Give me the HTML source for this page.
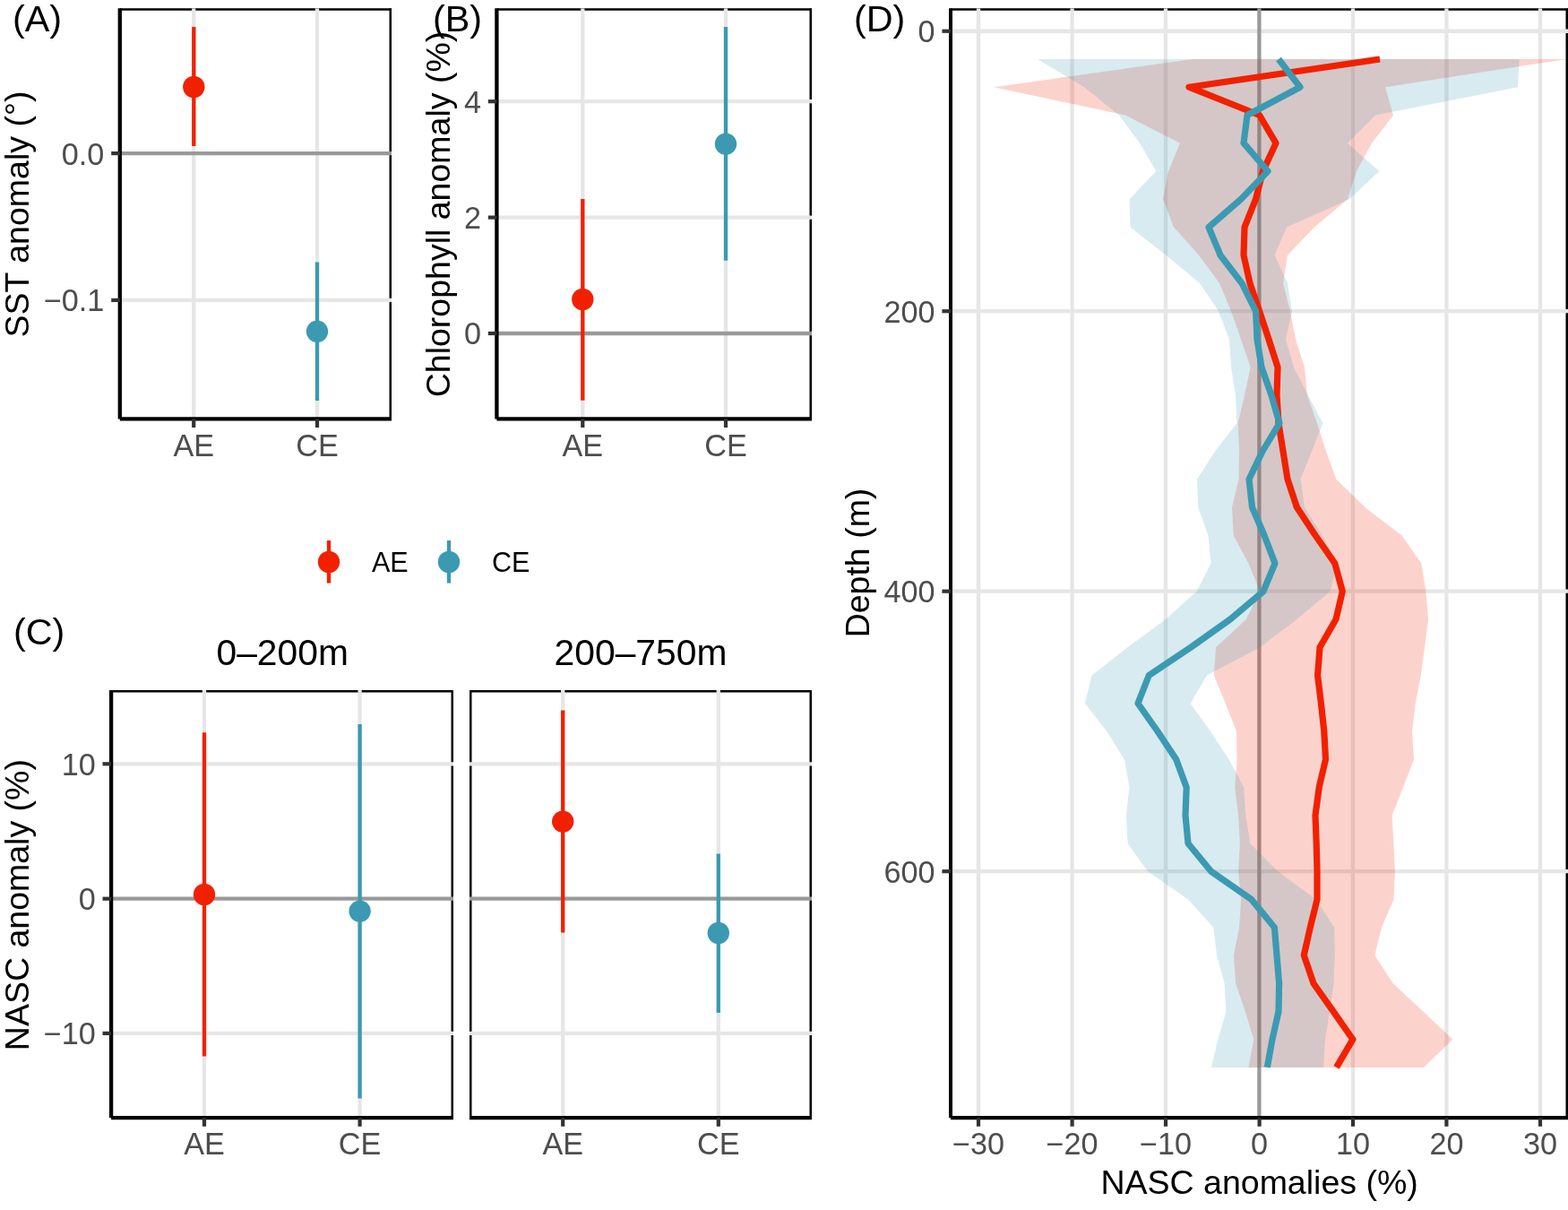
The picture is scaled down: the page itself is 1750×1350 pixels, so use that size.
<!DOCTYPE html>
<html lang="en">
<head>
<meta charset="utf-8">
<title>Eddy anomalies figure</title>
<style>
html,body{margin:0;padding:0;background:#fff;}
body{width:1750px;height:1350px;overflow:hidden;}
svg{display:block;font-family:"Liberation Sans",sans-serif;}
</style>
</head>
<body>
<svg width="1750" height="1350" viewBox="0 0 1750 1350">
<rect width="1750" height="1350" fill="#fff"/>
<clipPath id="c1"><rect x="133.8" y="9.2" width="303.20" height="458.20"/></clipPath>
<g clip-path="url(#c1)">
<rect x="133.8" y="9.2" width="303.20" height="458.20" fill="#fff"/>
<line x1="133.8" x2="437.0" y1="9.2" y2="9.2" stroke="#000" stroke-width="5.0"/>
<line x1="437.0" x2="437.0" y1="9.2" y2="467.4" stroke="#000" stroke-width="5.0"/>
<line x1="133.8" x2="437.0" y1="334.9" y2="334.9" stroke="#E6E6E6" stroke-width="4.3"/>
<line x1="216.2" x2="216.2" y1="9.2" y2="467.4" stroke="#E6E6E6" stroke-width="4.3"/>
<line x1="354.0" x2="354.0" y1="9.2" y2="467.4" stroke="#E6E6E6" stroke-width="4.3"/>
<line x1="133.8" x2="437.0" y1="171.1" y2="171.1" stroke="#999999" stroke-width="4.3"/>
<line x1="216.3" x2="216.3" y1="30.0" y2="163.0" stroke="#F12100" stroke-width="4.3"/>
<circle cx="216.3" cy="97.0" r="12.2" fill="#F12100"/>
<line x1="354.0" x2="354.0" y1="292.4" y2="447.0" stroke="#3B9AB2" stroke-width="4.3"/>
<circle cx="354.0" cy="369.8" r="12.2" fill="#3B9AB2"/>
</g>
<line x1="133.8" x2="133.8" y1="9.2" y2="467.4" stroke="#000" stroke-width="4.3"/>
<line x1="133.8" x2="437.0" y1="467.4" y2="467.4" stroke="#000" stroke-width="4.3"/>
<line x1="216.2" x2="216.2" y1="467.4" y2="477.00" stroke="#333333" stroke-width="4.2"/>
<text x="216.2" y="508.5" font-size="34.2" fill="#4D4D4D" text-anchor="middle">AE</text>
<line x1="354.0" x2="354.0" y1="467.4" y2="477.00" stroke="#333333" stroke-width="4.2"/>
<text x="354.0" y="508.5" font-size="34.2" fill="#4D4D4D" text-anchor="middle">CE</text>
<line x1="124.20" x2="133.8" y1="171.1" y2="171.1" stroke="#333333" stroke-width="4.2"/>
<text x="116.40" y="183.50" font-size="34.2" fill="#4D4D4D" text-anchor="end">0.0</text>
<line x1="124.20" x2="133.8" y1="334.9" y2="334.9" stroke="#333333" stroke-width="4.2"/>
<text x="116.40" y="347.30" font-size="34.2" fill="#4D4D4D" text-anchor="end">−0.1</text>
<text transform="translate(31.5 239.0) rotate(-90)" font-size="37.5" fill="#000" text-anchor="middle">SST anomaly (°)</text>
<text x="14.0" y="35.0" font-size="41.3" fill="#000">(A)</text>
<clipPath id="c2"><rect x="554.4" y="9.2" width="351.60" height="458.20"/></clipPath>
<g clip-path="url(#c2)">
<rect x="554.4" y="9.2" width="351.60" height="458.20" fill="#fff"/>
<line x1="554.4" x2="906.0" y1="9.2" y2="9.2" stroke="#000" stroke-width="5.0"/>
<line x1="906.0" x2="906.0" y1="9.2" y2="467.4" stroke="#000" stroke-width="5.0"/>
<line x1="554.4" x2="906.0" y1="113.2" y2="113.2" stroke="#E6E6E6" stroke-width="4.3"/>
<line x1="554.4" x2="906.0" y1="242.6" y2="242.6" stroke="#E6E6E6" stroke-width="4.3"/>
<line x1="650.3" x2="650.3" y1="9.2" y2="467.4" stroke="#E6E6E6" stroke-width="4.3"/>
<line x1="810.0" x2="810.0" y1="9.2" y2="467.4" stroke="#E6E6E6" stroke-width="4.3"/>
<line x1="554.4" x2="906.0" y1="372.0" y2="372.0" stroke="#999999" stroke-width="4.3"/>
<line x1="650.3" x2="650.3" y1="222.0" y2="446.7" stroke="#F12100" stroke-width="4.3"/>
<circle cx="650.3" cy="334.0" r="12.2" fill="#F12100"/>
<line x1="810.0" x2="810.0" y1="30.0" y2="290.8" stroke="#3B9AB2" stroke-width="4.3"/>
<circle cx="810.0" cy="160.7" r="12.2" fill="#3B9AB2"/>
</g>
<line x1="554.4" x2="554.4" y1="9.2" y2="467.4" stroke="#000" stroke-width="4.3"/>
<line x1="554.4" x2="906.0" y1="467.4" y2="467.4" stroke="#000" stroke-width="4.3"/>
<line x1="650.3" x2="650.3" y1="467.4" y2="477.00" stroke="#333333" stroke-width="4.2"/>
<text x="650.3" y="508.5" font-size="34.2" fill="#4D4D4D" text-anchor="middle">AE</text>
<line x1="810.0" x2="810.0" y1="467.4" y2="477.00" stroke="#333333" stroke-width="4.2"/>
<text x="810.0" y="508.5" font-size="34.2" fill="#4D4D4D" text-anchor="middle">CE</text>
<line x1="544.80" x2="554.4" y1="113.2" y2="113.2" stroke="#333333" stroke-width="4.2"/>
<text x="537.00" y="125.60" font-size="34.2" fill="#4D4D4D" text-anchor="end">4</text>
<line x1="544.80" x2="554.4" y1="242.6" y2="242.6" stroke="#333333" stroke-width="4.2"/>
<text x="537.00" y="255.00" font-size="34.2" fill="#4D4D4D" text-anchor="end">2</text>
<line x1="544.80" x2="554.4" y1="372.0" y2="372.0" stroke="#333333" stroke-width="4.2"/>
<text x="537.00" y="384.40" font-size="34.2" fill="#4D4D4D" text-anchor="end">0</text>
<text transform="translate(501.7 239.0) rotate(-90)" font-size="37.5" fill="#000" text-anchor="middle">Chlorophyll anomaly (%)</text>
<text x="483.0" y="35.0" font-size="41.3" fill="#000">(B)</text>
<line x1="367" x2="367" y1="603" y2="650.6" stroke="#F12100" stroke-width="4.3"/>
<circle cx="367" cy="627" r="12.2" fill="#F12100"/>
<text x="415" y="638.4" font-size="30.5" fill="#000">AE</text>
<line x1="501" x2="501" y1="603" y2="650.6" stroke="#3B9AB2" stroke-width="4.3"/>
<circle cx="501" cy="627" r="12.2" fill="#3B9AB2"/>
<text x="549" y="638.4" font-size="30.5" fill="#000">CE</text>
<clipPath id="c3"><rect x="124.1" y="770.0" width="381.90" height="477.20"/></clipPath>
<g clip-path="url(#c3)">
<rect x="124.1" y="770.0" width="381.90" height="477.20" fill="#fff"/>
<line x1="124.1" x2="506.0" y1="770.0" y2="770.0" stroke="#000" stroke-width="5.0"/>
<line x1="506.0" x2="506.0" y1="770.0" y2="1247.2" stroke="#000" stroke-width="5.0"/>
<line x1="124.1" x2="506.0" y1="852.3" y2="852.3" stroke="#E6E6E6" stroke-width="4.3"/>
<line x1="124.1" x2="506.0" y1="1152.9" y2="1152.9" stroke="#E6E6E6" stroke-width="4.3"/>
<line x1="228.0" x2="228.0" y1="770.0" y2="1247.2" stroke="#E6E6E6" stroke-width="4.3"/>
<line x1="401.6" x2="401.6" y1="770.0" y2="1247.2" stroke="#E6E6E6" stroke-width="4.3"/>
<line x1="124.1" x2="506.0" y1="1002.7" y2="1002.7" stroke="#999999" stroke-width="4.3"/>
<line x1="228.0" x2="228.0" y1="817.2" y2="1178.6" stroke="#F12100" stroke-width="4.3"/>
<circle cx="228.0" cy="998.0" r="12.2" fill="#F12100"/>
<line x1="401.6" x2="401.6" y1="808.0" y2="1225.6" stroke="#3B9AB2" stroke-width="4.3"/>
<circle cx="401.6" cy="1016.6" r="12.2" fill="#3B9AB2"/>
</g>
<line x1="124.1" x2="124.1" y1="770.0" y2="1247.2" stroke="#000" stroke-width="4.3"/>
<line x1="124.1" x2="506.0" y1="1247.2" y2="1247.2" stroke="#000" stroke-width="4.3"/>
<clipPath id="c4"><rect x="524.0" y="770.0" width="382.00" height="477.20"/></clipPath>
<g clip-path="url(#c4)">
<rect x="524.0" y="770.0" width="382.00" height="477.20" fill="#fff"/>
<line x1="524.0" x2="906.0" y1="770.0" y2="770.0" stroke="#000" stroke-width="5.0"/>
<line x1="906.0" x2="906.0" y1="770.0" y2="1247.2" stroke="#000" stroke-width="5.0"/>
<line x1="524.0" x2="524.0" y1="770.0" y2="1247.2" stroke="#000" stroke-width="5.0"/>
<line x1="524.0" x2="906.0" y1="852.3" y2="852.3" stroke="#E6E6E6" stroke-width="4.3"/>
<line x1="524.0" x2="906.0" y1="1152.9" y2="1152.9" stroke="#E6E6E6" stroke-width="4.3"/>
<line x1="628.2" x2="628.2" y1="770.0" y2="1247.2" stroke="#E6E6E6" stroke-width="4.3"/>
<line x1="801.8" x2="801.8" y1="770.0" y2="1247.2" stroke="#E6E6E6" stroke-width="4.3"/>
<line x1="524.0" x2="906.0" y1="1002.7" y2="1002.7" stroke="#999999" stroke-width="4.3"/>
<line x1="628.2" x2="628.2" y1="792.4" y2="1040.6" stroke="#F12100" stroke-width="4.3"/>
<circle cx="628.2" cy="916.6" r="12.2" fill="#F12100"/>
<line x1="801.8" x2="801.8" y1="952.4" y2="1130.0" stroke="#3B9AB2" stroke-width="4.3"/>
<circle cx="801.8" cy="1041.0" r="12.2" fill="#3B9AB2"/>
</g>
<line x1="524.0" x2="906.0" y1="1247.2" y2="1247.2" stroke="#000" stroke-width="4.3"/>
<line x1="228.0" x2="228.0" y1="1247.2" y2="1256.80" stroke="#333333" stroke-width="4.2"/>
<text x="228.0" y="1288.4" font-size="34.2" fill="#4D4D4D" text-anchor="middle">AE</text>
<line x1="401.6" x2="401.6" y1="1247.2" y2="1256.80" stroke="#333333" stroke-width="4.2"/>
<text x="401.6" y="1288.4" font-size="34.2" fill="#4D4D4D" text-anchor="middle">CE</text>
<line x1="628.2" x2="628.2" y1="1247.2" y2="1256.80" stroke="#333333" stroke-width="4.2"/>
<text x="628.2" y="1288.4" font-size="34.2" fill="#4D4D4D" text-anchor="middle">AE</text>
<line x1="801.8" x2="801.8" y1="1247.2" y2="1256.80" stroke="#333333" stroke-width="4.2"/>
<text x="801.8" y="1288.4" font-size="34.2" fill="#4D4D4D" text-anchor="middle">CE</text>
<line x1="114.50" x2="124.1" y1="852.3" y2="852.3" stroke="#333333" stroke-width="4.2"/>
<text x="106.70" y="864.70" font-size="34.2" fill="#4D4D4D" text-anchor="end">10</text>
<line x1="114.50" x2="124.1" y1="1002.7" y2="1002.7" stroke="#333333" stroke-width="4.2"/>
<text x="106.70" y="1015.10" font-size="34.2" fill="#4D4D4D" text-anchor="end">0</text>
<line x1="114.50" x2="124.1" y1="1152.9" y2="1152.9" stroke="#333333" stroke-width="4.2"/>
<text x="106.70" y="1165.30" font-size="34.2" fill="#4D4D4D" text-anchor="end">−10</text>
<text transform="translate(32.0 1009.6) rotate(-90)" font-size="37.5" fill="#000" text-anchor="middle">NASC anomaly (%)</text>
<text x="15.0" y="718.5" font-size="41.3" fill="#000">(C)</text>
<text x="315.2" y="742" font-size="40.8" fill="#000" text-anchor="middle">0–200m</text>
<text x="715.0" y="742" font-size="40.8" fill="#000" text-anchor="middle">200–750m</text>
<clipPath id="c5"><rect x="1061.0" y="9.2" width="689.00" height="1238.00"/></clipPath>
<g clip-path="url(#c5)">
<rect x="1061.0" y="9.2" width="689.00" height="1238.00" fill="#fff"/>
<line x1="1061.0" x2="1750.0" y1="9.2" y2="9.2" stroke="#000" stroke-width="5.0"/>
<line x1="1750.0" x2="1750.0" y1="9.2" y2="1247.2" stroke="#000" stroke-width="5.0"/>
<line x1="1061.0" x2="1750.0" y1="34.75" y2="34.75" stroke="#E6E6E6" stroke-width="4.3"/>
<line x1="1061.0" x2="1750.0" y1="347.2" y2="347.2" stroke="#E6E6E6" stroke-width="4.3"/>
<line x1="1061.0" x2="1750.0" y1="659.7" y2="659.7" stroke="#E6E6E6" stroke-width="4.3"/>
<line x1="1061.0" x2="1750.0" y1="972.2" y2="972.2" stroke="#E6E6E6" stroke-width="4.3"/>
<line x1="1092.0" x2="1092.0" y1="9.2" y2="1247.2" stroke="#E6E6E6" stroke-width="4.3"/>
<line x1="1196.6" x2="1196.6" y1="9.2" y2="1247.2" stroke="#E6E6E6" stroke-width="4.3"/>
<line x1="1301.0" x2="1301.0" y1="9.2" y2="1247.2" stroke="#E6E6E6" stroke-width="4.3"/>
<line x1="1510.0" x2="1510.0" y1="9.2" y2="1247.2" stroke="#E6E6E6" stroke-width="4.3"/>
<line x1="1614.4" x2="1614.4" y1="9.2" y2="1247.2" stroke="#E6E6E6" stroke-width="4.3"/>
<line x1="1719.0" x2="1719.0" y1="9.2" y2="1247.2" stroke="#E6E6E6" stroke-width="4.3"/>
<line x1="1405.4" x2="1405.4" y1="9.2" y2="1247.2" stroke="#999999" stroke-width="4.3"/>
<polygon points="1331.0,66.0 1109.0,97.2 1256.0,128.5 1317.0,159.7 1304.0,191.0 1298.0,222.2 1310.0,253.5 1338.0,284.7 1361.0,316.0 1374.0,347.2 1385.0,378.5 1395.6,409.7 1389.0,441.0 1381.6,472.2 1383.0,503.5 1382.5,534.7 1375.0,566.0 1376.7,597.2 1393.4,628.5 1406.3,659.7 1390.8,691.0 1357.0,722.2 1354.8,753.5 1367.7,784.7 1380.0,816.0 1380.6,847.2 1378.2,878.5 1382.0,909.7 1383.9,941.0 1382.0,972.2 1385.1,1003.5 1383.1,1034.7 1376.9,1065.9 1379.2,1097.2 1389.8,1128.4 1399.3,1159.7 1393.4,1190.9 1589.0,1190.9 1621.4,1159.7 1588.3,1128.4 1554.8,1097.2 1534.3,1065.9 1542.0,1034.7 1555.4,1003.5 1556.9,972.2 1555.4,941.0 1553.6,909.7 1566.0,878.5 1578.0,847.2 1576.0,816.0 1579.8,784.7 1585.8,753.5 1590.0,722.2 1594.0,691.0 1591.4,659.7 1586.3,628.5 1564.4,597.2 1523.5,566.0 1491.5,534.7 1480.0,503.5 1470.0,472.2 1459.0,441.0 1456.0,409.7 1446.0,378.5 1440.0,347.2 1432.0,316.0 1437.0,284.7 1467.0,253.5 1504.0,222.2 1514.0,191.0 1531.0,159.7 1555.0,128.5 1546.0,97.2 1748.0,66.0" fill="#F12100" fill-opacity="0.2"/>
<polygon points="1158.0,66.0 1210.0,97.2 1249.0,128.5 1272.0,159.7 1290.4,191.0 1260.6,222.2 1261.4,253.5 1301.4,284.7 1339.0,316.0 1360.0,347.2 1372.0,378.5 1374.0,409.7 1379.0,441.0 1380.4,472.2 1356.0,503.5 1336.0,534.7 1337.2,566.0 1348.4,597.2 1351.5,628.5 1335.6,659.7 1300.9,691.0 1258.4,722.2 1218.6,753.5 1210.9,784.7 1235.3,816.0 1255.0,847.2 1260.4,878.5 1257.0,909.7 1258.6,941.0 1281.0,972.2 1326.0,1003.5 1354.3,1034.7 1358.0,1065.9 1366.6,1097.2 1368.4,1128.4 1359.4,1159.7 1351.7,1190.9 1477.2,1190.9 1479.0,1159.7 1484.1,1128.4 1488.5,1097.2 1489.8,1065.9 1489.3,1034.7 1468.7,1003.5 1426.3,972.2 1395.4,941.0 1390.3,909.7 1388.2,878.5 1371.6,847.2 1351.0,816.0 1328.6,784.7 1347.0,753.5 1406.3,722.2 1447.4,691.0 1484.7,659.7 1492.4,628.5 1475.7,597.2 1456.0,566.0 1451.6,534.7 1464.0,503.5 1476.4,472.2 1460.0,441.0 1444.0,409.7 1435.0,378.5 1442.0,347.2 1437.0,316.0 1422.6,284.7 1436.0,253.5 1506.0,222.2 1539.4,191.0 1504.0,159.7 1535.0,128.5 1694.0,97.2 1695.6,66.0" fill="#3B9AB2" fill-opacity="0.2"/>
<polyline points="1540.0,66.0 1327.0,97.2 1405.6,128.5 1424.0,159.7 1409.5,191.0 1401.5,222.2 1389.0,253.5 1388.0,284.7 1395.0,316.0 1405.6,347.2 1416.0,378.5 1426.0,409.7 1425.0,441.0 1427.0,472.2 1432.0,503.5 1437.0,534.7 1447.4,566.0 1468.0,597.2 1489.8,628.5 1498.3,659.7 1491.0,691.0 1473.0,722.2 1470.6,753.5 1474.4,784.7 1477.8,816.0 1479.5,847.2 1472.2,878.5 1468.0,909.7 1469.2,941.0 1470.0,972.2 1470.0,1003.5 1462.3,1034.7 1455.3,1065.9 1466.0,1097.2 1488.0,1128.4 1509.9,1159.7 1491.5,1190.9" fill="none" stroke="#F12100" stroke-width="7.2" stroke-linejoin="round" stroke-linecap="butt"/>
<polyline points="1427.0,66.0 1451.0,97.2 1392.0,128.5 1388.0,159.7 1415.0,191.0 1385.0,222.2 1349.0,253.5 1362.0,284.7 1386.0,316.0 1401.6,347.2 1403.0,378.5 1408.0,409.7 1419.0,441.0 1428.0,472.2 1409.0,503.5 1394.0,534.7 1397.5,566.0 1411.0,597.2 1423.0,628.5 1410.0,659.7 1373.0,691.0 1329.0,722.2 1282.3,753.5 1270.0,784.7 1292.0,816.0 1312.7,847.2 1324.2,878.5 1323.0,909.7 1326.0,941.0 1351.7,972.2 1396.7,1003.5 1422.4,1034.7 1425.0,1065.9 1427.6,1097.2 1427.0,1128.4 1420.0,1159.7 1414.3,1190.9" fill="none" stroke="#3B9AB2" stroke-width="7.2" stroke-linejoin="round" stroke-linecap="butt"/>
</g>
<line x1="1061.0" x2="1061.0" y1="9.2" y2="1247.2" stroke="#000" stroke-width="4.0"/>
<line x1="1061.0" x2="1750.0" y1="1247.2" y2="1247.2" stroke="#000" stroke-width="4.2"/>
<line x1="1092.0" x2="1092.0" y1="1247.2" y2="1256.80" stroke="#333333" stroke-width="4.2"/>
<text x="1092.0" y="1288.4" font-size="34.2" fill="#4D4D4D" text-anchor="middle">−30</text>
<line x1="1196.6" x2="1196.6" y1="1247.2" y2="1256.80" stroke="#333333" stroke-width="4.2"/>
<text x="1196.6" y="1288.4" font-size="34.2" fill="#4D4D4D" text-anchor="middle">−20</text>
<line x1="1301.0" x2="1301.0" y1="1247.2" y2="1256.80" stroke="#333333" stroke-width="4.2"/>
<text x="1301.0" y="1288.4" font-size="34.2" fill="#4D4D4D" text-anchor="middle">−10</text>
<line x1="1405.6" x2="1405.6" y1="1247.2" y2="1256.80" stroke="#333333" stroke-width="4.2"/>
<text x="1405.6" y="1288.4" font-size="34.2" fill="#4D4D4D" text-anchor="middle">0</text>
<line x1="1510.0" x2="1510.0" y1="1247.2" y2="1256.80" stroke="#333333" stroke-width="4.2"/>
<text x="1510.0" y="1288.4" font-size="34.2" fill="#4D4D4D" text-anchor="middle">10</text>
<line x1="1614.4" x2="1614.4" y1="1247.2" y2="1256.80" stroke="#333333" stroke-width="4.2"/>
<text x="1614.4" y="1288.4" font-size="34.2" fill="#4D4D4D" text-anchor="middle">20</text>
<line x1="1719.0" x2="1719.0" y1="1247.2" y2="1256.80" stroke="#333333" stroke-width="4.2"/>
<text x="1719.0" y="1288.4" font-size="34.2" fill="#4D4D4D" text-anchor="middle">30</text>
<line x1="1051.40" x2="1061.0" y1="34.75" y2="34.75" stroke="#333333" stroke-width="4.2"/>
<text x="1043.60" y="47.15" font-size="34.2" fill="#4D4D4D" text-anchor="end">0</text>
<line x1="1051.40" x2="1061.0" y1="347.2" y2="347.2" stroke="#333333" stroke-width="4.2"/>
<text x="1043.60" y="359.60" font-size="34.2" fill="#4D4D4D" text-anchor="end">200</text>
<line x1="1051.40" x2="1061.0" y1="659.7" y2="659.7" stroke="#333333" stroke-width="4.2"/>
<text x="1043.60" y="672.10" font-size="34.2" fill="#4D4D4D" text-anchor="end">400</text>
<line x1="1051.40" x2="1061.0" y1="972.2" y2="972.2" stroke="#333333" stroke-width="4.2"/>
<text x="1043.60" y="984.60" font-size="34.2" fill="#4D4D4D" text-anchor="end">600</text>
<text transform="translate(970.0 628.0) rotate(-90)" font-size="37.5" fill="#000" text-anchor="middle">Depth (m)</text>
<text x="953.0" y="35.0" font-size="41.3" fill="#000">(D)</text>
<text x="1405.6" y="1332.4" font-size="37.5" fill="#000" text-anchor="middle">NASC anomalies (%)</text>
</svg>
</body>
</html>
